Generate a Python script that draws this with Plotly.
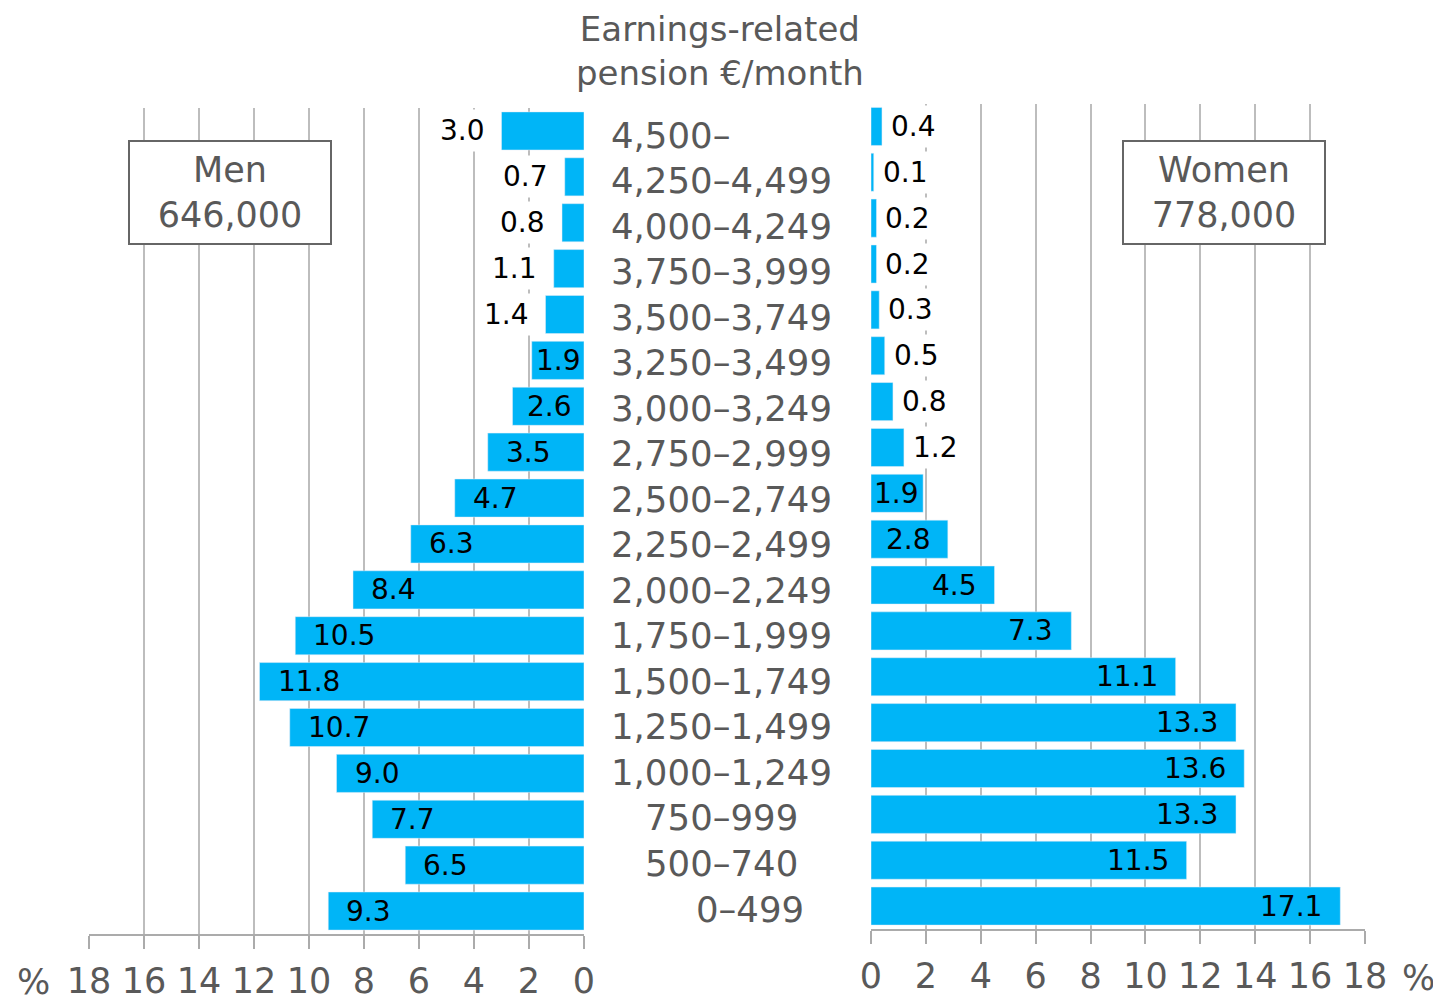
import plotly.graph_objects as go

# ---- data ----
categories = ["4,500–", "4,250–4,499", "4,000–4,249", "3,750–3,999", "3,500–3,749",
              "3,250–3,499", "3,000–3,249", "2,750–2,999", "2,500–2,749", "2,250–2,499",
              "2,000–2,249", "1,750–1,999", "1,500–1,749", "1,250–1,499", "1,000–1,249",
              "750–999", "500–740", "0–499"]
men = [3.0, 0.7, 0.8, 1.1, 1.4, 1.9, 2.6, 3.5, 4.7, 6.3, 8.4, 10.5, 11.8, 10.7, 9.0, 7.7, 6.5, 9.3]
women = [0.4, 0.1, 0.2, 0.2, 0.3, 0.5, 0.8, 1.2, 1.9, 2.8, 4.5, 7.3, 11.1, 13.3, 13.6, 13.3, 11.5, 17.1]
men_outside = [True, True, True, True, True] + [False] * 13
women_outside = [True] * 8 + [False] * 10
x_ticks = [0, 2, 4, 6, 8, 10, 12, 14, 16, 18]
title_text = "Earnings-related<br>pension €/month"
men_box = "Men<br>646,000"
women_box = "Women<br>778,000"

# ---- style ----
OFF = 8  # default page body margin
W, H = 1441 - OFF, 1002 - OFF
FONT = "DejaVu Sans"
GRAY = "#595959"
BAR = "#00B5F7"
GRID = "#BDBDBD"
AXIS = "#ABABAB"
PXU = 27.5  # approx px per unit on both x axes
LABEL_TOP, LABEL_STEP = 135, 45.53  # vertical layout of the middle labels (px)


def px(x):
    return (x - OFF) / W


def py(y):
    return 1 - (y - OFF) / H


fig = go.Figure()
fig.add_trace(go.Bar(y=categories, x=men, orientation="h", marker_color=BAR,
                     xaxis="x", yaxis="y", hoverinfo="x+y", showlegend=False))
fig.add_trace(go.Bar(y=categories, x=women, orientation="h", marker_color=BAR,
                     xaxis="x2", yaxis="y2", hoverinfo="x+y", showlegend=False))

xcommon = dict(tickmode="array", tickvals=x_ticks, ticktext=[str(t) for t in x_ticks],
               showgrid=True, gridcolor=GRID, gridwidth=1.5, zeroline=False,
               showline=True, linecolor=AXIS, linewidth=2, automargin=False,
               ticks="outside", ticklen=13, tickcolor=AXIS, tickwidth=1.5,
               ticklabelstandoff=2,
               tickfont=dict(family=FONT, size=35, color=GRAY), fixedrange=True)
ycommon = dict(type="category", autorange="reversed", showticklabels=False, automargin=False,
               showgrid=False, zeroline=False, showline=False, ticks="", fixedrange=True)

fig.update_layout(
    width=W, height=H, margin=dict(l=0, r=0, t=0, b=0, autoexpand=False),
    paper_bgcolor="white", plot_bgcolor="white", bargap=0.17,
    xaxis=dict(domain=[px(89), px(584)], range=[18, 0], anchor="y", **xcommon),
    xaxis2=dict(domain=[px(871), px(1365)], range=[0, 18], anchor="y2", **xcommon),
    yaxis=dict(domain=[py(934), py(108)], anchor="x", **ycommon),
    yaxis2=dict(domain=[py(929), py(103.5)], anchor="x2", **ycommon),
)

ann = []
LBL = dict(family=FONT, size=28, color="black")
for c, v, out in zip(categories, men, men_outside):
    text = f"{v:.1f}"
    if out:
        ann.append(dict(x=v, y=c, xref="x", yref="y", text=text, showarrow=False,
                        xanchor="right", xshift=-12, font=LBL, bgcolor="white", borderpad=4))
    else:
        pad = min(16, max(2, (v * PXU - 47) / 2))
        ann.append(dict(x=v, y=c, xref="x", yref="y", text=text, showarrow=False,
                        xanchor="left", xshift=pad, font=LBL))
for c, v, out in zip(categories, women, women_outside):
    text = f"{v:.1f}"
    if out:
        ann.append(dict(x=v, y=c, xref="x2", yref="y2", text=text, showarrow=False,
                        xanchor="left", xshift=4, font=LBL, bgcolor="white", borderpad=4))
    else:
        pad = min(16, max(2, (v * PXU - 47) / 2))
        ann.append(dict(x=v, y=c, xref="x2", yref="y2", text=text, showarrow=False,
                        xanchor="right", xshift=-pad, font=LBL))

# category labels in the middle
CAT = dict(family=FONT, size=35.5, color=GRAY)
for i, c in enumerate(categories):
    if i == 0:
        xa, xp = "left", 609
    elif i == len(categories) - 1:
        xa, xp = "center", 750
    else:
        xa, xp = "center", 721
    ann.append(dict(x=px(xp), y=py(LABEL_TOP + i * LABEL_STEP), xref="paper", yref="paper",
                    text=c, showarrow=False, xanchor=xa, yanchor="middle", font=CAT))

# title
ann.append(dict(x=px(720), y=py(51), xref="paper", yref="paper", text=title_text,
                showarrow=False, xanchor="center", yanchor="middle",
                font=dict(family=FONT, size=34, color=GRAY)))
# percent signs
ann.append(dict(x=px(33), y=py(982), xref="paper", yref="paper", text="%", showarrow=False,
                xanchor="center", yanchor="middle", font=dict(family=FONT, size=35, color=GRAY)))
ann.append(dict(x=px(1418), y=py(978), xref="paper", yref="paper", text="%", showarrow=False,
                xanchor="center", yanchor="middle", font=dict(family=FONT, size=35, color=GRAY)))
# boxes
for txt, cx in ((men_box, 229.5), (women_box, 1224)):
    ann.append(dict(x=px(cx), y=py(193), xref="paper", yref="paper", text=txt, showarrow=False,
                    xanchor="center", yanchor="middle", width=200, height=101,
                    bgcolor="white", bordercolor="#666666", borderwidth=2, borderpad=0,
                    font=dict(family=FONT, size=35, color=GRAY)))

fig.update_layout(annotations=ann)
fig.write_html("out.html")
